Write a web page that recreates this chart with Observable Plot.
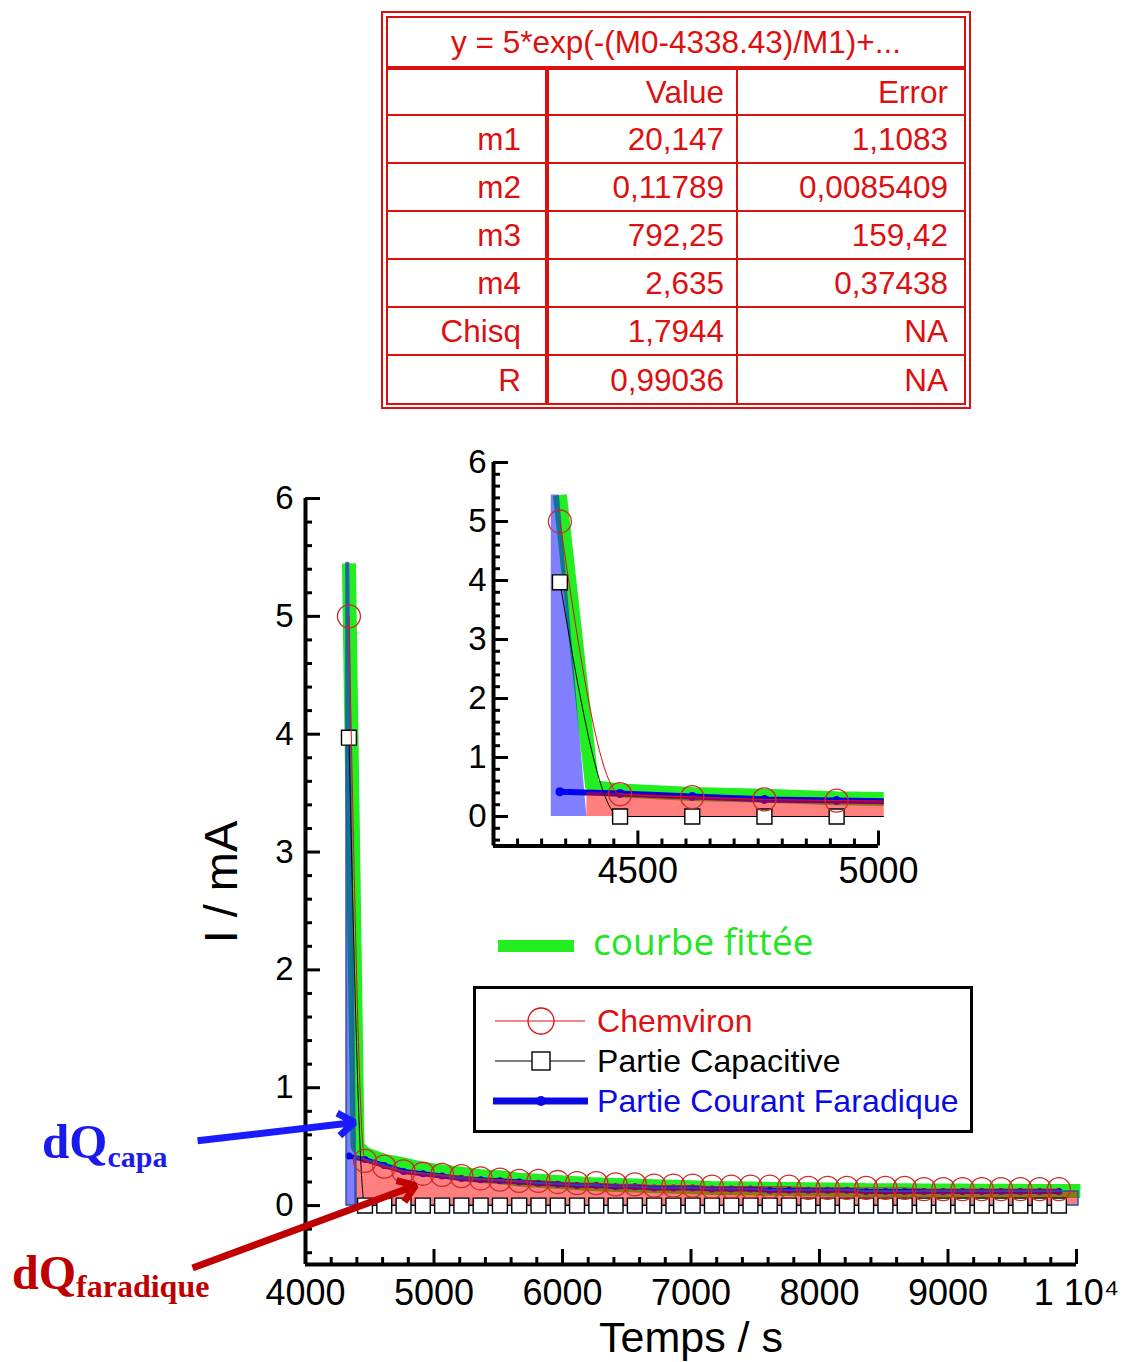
<!DOCTYPE html>
<html><head><meta charset="utf-8">
<script src="https://cdn.jsdelivr.net/npm/d3@7"></script>
<script src="https://cdn.jsdelivr.net/npm/@observablehq/plot@0.6"></script>
<style>
body{margin:0;background:#fff;}
#page{position:relative;width:1123px;height:1362px;overflow:hidden;font-family:"Liberation Sans",Arial,sans-serif;background:#fff;}
.layer{position:absolute;}
</style></head><body><div id="page"></div>
<script>
// ---------------- DATA ----------------
const times = [4338, 4463, 4613, 4763, 4913, 5063, 5213, 5363, 5513, 5663, 5813, 5963, 6113, 6263, 6413, 6563, 6713, 6863, 7013, 7163, 7313, 7463, 7613, 7763, 7913, 8063, 8213, 8363, 8513, 8663, 8813, 8963, 9113, 9263, 9413, 9563, 9713, 9863];
const chemviron = [5.0, 0.38, 0.33, 0.29, 0.27, 0.26, 0.25, 0.23, 0.22, 0.21, 0.21, 0.20, 0.19, 0.19, 0.18, 0.18, 0.17, 0.17, 0.17, 0.16, 0.16, 0.16, 0.16, 0.16, 0.15, 0.15, 0.15, 0.15, 0.15, 0.15, 0.14, 0.14, 0.14, 0.14, 0.14, 0.14, 0.14, 0.14];
const capacitive = [3.97, 0, 0, 0, 0, 0, 0, 0, 0, 0, 0, 0, 0, 0, 0, 0, 0, 0, 0, 0, 0, 0, 0, 0, 0, 0, 0, 0, 0, 0, 0, 0, 0, 0, 0, 0, 0, 0];
const faradique = [0.42, 0.39, 0.34, 0.29, 0.27, 0.25, 0.23, 0.22, 0.21, 0.20, 0.19, 0.18, 0.17, 0.17, 0.16, 0.16, 0.15, 0.15, 0.15, 0.14, 0.14, 0.14, 0.13, 0.13, 0.13, 0.13, 0.13, 0.12, 0.12, 0.12, 0.12, 0.12, 0.12, 0.12, 0.12, 0.12, 0.12, 0.12];
const fitTimes = [4338, 4405, 4463, 4613, 4763, 4913, 5063, 5213, 5363, 5513, 5663, 5813, 5963, 6113, 6263, 6413, 6563, 6713, 6863, 7013, 7163, 7313, 7463, 7613, 7763, 7913, 8063, 8213, 8363, 8513, 8663, 8813, 8963, 9113, 9263, 9413, 9563, 9713, 9863, 10030];
const fitValues = [5.45, 0.50, 0.44, 0.38, 0.35, 0.31, 0.29, 0.27, 0.25, 0.24, 0.22, 0.21, 0.20, 0.19, 0.18, 0.175, 0.17, 0.165, 0.16, 0.155, 0.15, 0.148, 0.145, 0.142, 0.14, 0.138, 0.136, 0.134, 0.132, 0.131, 0.13, 0.129, 0.128, 0.127, 0.126, 0.125, 0.125, 0.124, 0.124, 0.123];
// dQ capa (blue area) outline
const capaAreaTimes = [4320, 4337, 4394];
const capaAreaValues = [5.45, 5.45, 0];
// dQ faradique (red area) edges; interior follows the faradique series
const faraEdgeTimes = [4394, 10015];
const faraEdgeValues = [0.41, 0.12];
// ticks
const mainXTicks = [4000, 5000, 6000, 7000, 8000, 9000, 10000];
const mainYTicks = [0, 1, 2, 3, 4, 5, 6];
const insetXTicks = [4500, 5000];
const insetYTicks = [0, 1, 2, 3, 4, 5, 6];
// annotation arrows (data units of main chart)
const arrowFrom = [[3160, 0.55], [3121, -0.53]];
const arrowTo = [[4381, 0.705], [4856, 0.17]];
const arrowColors = ["#1a1aff", "#c00000"];
// fit table
const tableTitle = "y = 5*exp(-(M0-4338.43)/M1)+...";
const tableRowNames = ["", "m1", "m2", "m3", "m4", "Chisq", "R"];
const tableValues = ["Value", "20,147", "0,11789", "792,25", "2,635", "1,7944", "0,99036"];
const tableErrors = ["Error", "1,1083", "0,0085409", "159,42", "0,37438", "NA", "NA"];
// legend
const legendNames = ["Chemviron", "Partie Capacitive", "Partie Courant Faradique"];
const legendColors = ["#e01010", "#000000", "#0a0ae6"];

// ---------------- TABLES FOR PLOT ----------------
const series = times.map((t, i) => ({t, chem: chemviron[i], cap: capacitive[i], far: faradique[i]}));
const fitData = fitTimes.map((t, i) => ({t, v: fitValues[i]}));
const capaArea = capaAreaTimes.map((t, i) => ({t, v: capaAreaValues[i]}));
const faraArea = [{t: faraEdgeTimes[0], v: faraEdgeValues[0]}]
  .concat(series.slice(1).map(d => ({t: d.t, v: d.far})))
  .concat([{t: faraEdgeTimes[1], v: faraEdgeValues[1]}]);
const arrows = arrowFrom.map((a, i) => ({x1: a[0], y1: a[1], x2: arrowTo[i][0], y2: arrowTo[i][1], c: arrowColors[i]}));

const notInt = d => Math.abs(d - Math.round(d)) > 1e-6;
const page = document.getElementById("page");
const FONT = "Liberation Sans, Arial, sans-serif";

function dataMarks(s) {
  const clip = s.clip;
  return [
    Plot.line(fitData, {x: "t", y: "v", stroke: "#22ee22", strokeWidth: 14, strokeLinecap: "butt", strokeLinejoin: "miter", clip}),
    Plot.line(series, {x: "t", y: "far", stroke: "#0000e6", strokeWidth: s.farW, clip}),
    Plot.dot(series, {x: "t", y: "far", r: s.farR, fill: "#0000e6", clip}),
    Plot.areaY(faraArea, {x: "t", y: "v", fill: "#ff0000", fillOpacity: 0.5, stroke: s.areaStroke, strokeWidth: s.areaSW, strokeOpacity: 0.8, clip}),
    Plot.areaY(capaArea, {x: "t", y: "v", fill: "#0000ff", fillOpacity: 0.5, stroke: s.areaStroke, strokeWidth: s.areaSW, strokeOpacity: 0.8, clip}),
    Plot.line(series, {x: "t", y: "cap", stroke: "black", strokeWidth: 1, curve: "monotone-x", clip}),
    Plot.dot(series, {x: "t", y: "cap", symbol: "square", r: 8.4, fill: "white", stroke: "black", strokeWidth: 1.4, clip}),
    Plot.line(series, {x: "t", y: "chem", stroke: "#e01010", strokeWidth: 1, curve: "monotone-x", clip}),
    Plot.dot(series, {x: "t", y: "chem", r: 11.5, fill: "none", stroke: "#cc2a2a", strokeWidth: 1.3, clip})
  ];
}

function axisMarks(o) {
  return [
    Plot.ruleX([o.x0], {stroke: "black", strokeWidth: 4}),
    Plot.ruleY([o.y0], {x1: o.x0, x2: o.xEnd, stroke: "black", strokeWidth: 4}),
    Plot.tickY(o.yMajor, {y: d => d, stroke: "black", strokeWidth: 3, insetRight: o.frameW - 15}),
    Plot.tickY(o.yMinor, {y: d => d, stroke: "black", strokeWidth: 3, insetRight: o.frameW - 7}),
    Plot.tickX(o.xMajor, {x: d => d, stroke: "black", strokeWidth: 3, insetTop: o.frameH - 15}),
    Plot.tickX(o.xMinor, {x: d => d, stroke: "black", strokeWidth: 3, insetTop: o.frameH - 7}),
    Plot.axisY(o.yMajor, {tickSize: 0, tickPadding: o.yPad, fontSize: o.yFont, tickFormat: d => String(d), fill: "black"}),
    Plot.axisX(o.xMajor, {tickSize: 0, tickPadding: o.xPad, fontSize: o.xFont, tickFormat: d => d === 10000 ? "1 10\u2074" : String(d), fill: "black"})
  ];
}

// ---------------- MAIN PLOT ----------------
{
  const W = 1123, H = 922, m = {l: 305, r: 47, t: 58, b: 98};
  const frameW = W - m.l - m.r, frameH = H - m.t - m.b;
  const xMinor = d3.range(4200, 10000, 200).filter(d => d % 1000 !== 0);
  const yMinor = d3.range(-0.4, 6, 0.2).filter(notInt);
  const plot = Plot.plot({
    width: W, height: H,
    marginLeft: m.l, marginRight: m.r, marginTop: m.t, marginBottom: m.b,
    x: {domain: [4000, 10000], label: null},
    y: {domain: [-0.5, 6], label: null},
    style: {fontFamily: FONT, color: "black", background: "transparent", overflow: "visible"},
    marks: [
      ...dataMarks({clip: false, farW: 5, farR: 3.5, areaStroke: "#3050b0", areaSW: 2}),
      ...axisMarks({x0: 4000, xEnd: 10000, y0: -0.5, frameW, frameH, yMajor: mainYTicks, yMinor, xMajor: mainXTicks, xMinor, yPad: 12, yFont: 33, xPad: 15, xFont: 36}),
      Plot.arrow(arrows, {x1: "x1", y1: "y1", x2: "x2", y2: "y2", stroke: "c", strokeWidth: 7, headLength: 4.2, headAngle: 70, strokeLinecap: "butt", strokeLinejoin: "miter"})
    ]
  });
  const div = document.createElement("div");
  div.className = "layer"; div.style.left = "0px"; div.style.top = "440px";
  div.appendChild(plot); page.appendChild(div);
}

// ---------------- INSET PLOT ----------------
{
  const W = 520, H = 470, pxPerS = 0.48125, pxPerU = 59;
  const xDom = [4200, 5012];
  const frameW = (xDom[1] - xDom[0]) * pxPerS, frameH = 6.5 * pxPerU;
  const m = {l: 73, t: 32};
  const mr = W - m.l - frameW, mb = H - m.t - frameH;
  const xMinor = d3.range(4250, 5000, 50).filter(d => d !== 4500);
  const yMinor = d3.range(-0.4, 6, 0.2).filter(notInt);
  const plot = Plot.plot({
    width: W, height: H,
    marginLeft: m.l, marginRight: mr, marginTop: m.t, marginBottom: mb,
    x: {domain: xDom, label: null},
    y: {domain: [-0.5, 6], label: null},
    style: {fontFamily: FONT, color: "black", background: "transparent", overflow: "visible"},
    marks: [
      ...dataMarks({clip: true, farW: 6, farR: 4.5, areaStroke: "none", areaSW: 0}),
      ...axisMarks({x0: 4200, xEnd: 5000, y0: -0.5, frameW, frameH, yMajor: insetYTicks, yMinor, xMajor: insetXTicks, xMinor, yPad: 7, yFont: 33, xPad: 11, xFont: 36})
    ]
  });
  const div = document.createElement("div");
  div.className = "layer"; div.style.left = "420px"; div.style.top = "430px";
  div.appendChild(plot); page.appendChild(div);
}

// ---------------- OVERLAY: table, legends, titles, labels ----------------
{
  const svg = d3.select(page).append("svg").attr("class", "layer")
    .attr("width", 1123).attr("height", 1362).style("left", "0px").style("top", "0px")
    .style("pointer-events", "none").style("font-family", FONT);
  // table
  const red = "#dd1010";
  const T = svg.append("g");
  T.append("rect").attr("x", 382).attr("y", 12).attr("width", 588).attr("height", 396).attr("fill", "white").attr("stroke", red).attr("stroke-width", 2);
  T.append("rect").attr("x", 387).attr("y", 17).attr("width", 578).attr("height", 387).attr("fill", "none").attr("stroke", red).attr("stroke-width", 2);
  T.append("line").attr("x1", 387).attr("x2", 965).attr("y1", 68).attr("y2", 68).attr("stroke", red).attr("stroke-width", 4);
  const rowY = [68, 115, 163, 211, 259, 307, 355, 404];
  rowY.slice(1, -1).forEach(y => T.append("line").attr("x1", 387).attr("x2", 965).attr("y1", y).attr("y2", y).attr("stroke", red).attr("stroke-width", 2));
  T.append("line").attr("x1", 547).attr("x2", 547).attr("y1", 68).attr("y2", 404).attr("stroke", red).attr("stroke-width", 4);
  T.append("line").attr("x1", 737).attr("x2", 737).attr("y1", 68).attr("y2", 404).attr("stroke", red).attr("stroke-width", 2);
  T.append("text").attr("x", 676).attr("y", 53).attr("text-anchor", "middle").attr("font-size", 31.5).attr("fill", red).text(tableTitle);
  const colRight = [521, 724, 948];
  tableRowNames.forEach((name, i) => {
    const yb = (rowY[i] + rowY[i + 1]) / 2 + 11;
    [name, tableValues[i], tableErrors[i]].forEach((txt, j) => {
      T.append("text").attr("x", colRight[j]).attr("y", yb).attr("text-anchor", "end").attr("font-size", 31.5).attr("fill", red).text(txt);
    });
  });

  // green fit legend
  svg.append("line").attr("x1", 498).attr("x2", 574).attr("y1", 946).attr("y2", 946).attr("stroke", "#22ee22").attr("stroke-width", 12);
  svg.append("text").attr("x", 593).attr("y", 955).attr("font-family", "Open Sans, sans-serif").attr("font-size", 37).attr("fill", "#22e622").text("courbe fittée");

  // legend box
  svg.append("rect").attr("x", 474.5).attr("y", 987.5).attr("width", 497).attr("height", 144).attr("fill", "white").attr("stroke", "black").attr("stroke-width", 3);
  const ly = [1021, 1061, 1101];
  legendNames.forEach((name, i) => {
    const y = ly[i];
    svg.append("line").attr("x1", i === 2 ? 493 : 495).attr("x2", i === 2 ? 588 : 585).attr("y1", y).attr("y2", y)
      .attr("stroke", legendColors[i]).attr("stroke-width", i === 2 ? 7 : 1.2);
    if (i === 0) svg.append("circle").attr("cx", 541).attr("cy", y).attr("r", 13).attr("fill", "none").attr("stroke", legendColors[0]).attr("stroke-width", 1.3);
    if (i === 1) svg.append("rect").attr("x", 532).attr("y", y - 9).attr("width", 18).attr("height", 18).attr("fill", "white").attr("stroke", "black").attr("stroke-width", 1.4);
    if (i === 2) svg.append("circle").attr("cx", 541).attr("cy", y).attr("r", 5).attr("fill", legendColors[2]);
    svg.append("text").attr("x", 597).attr("y", y + 11).attr("font-size", 32).attr("letter-spacing", 0.1).attr("fill", legendColors[i]).text(name);
  });

  // axis titles
  svg.append("text").attr("x", 691).attr("y", 1352).attr("text-anchor", "middle").attr("font-size", 43).attr("fill", "black").text("Temps / s");
  svg.append("text").attr("transform", "translate(237,882) rotate(-90)").attr("text-anchor", "middle").attr("font-size", 47).attr("fill", "black").text("I / mA");

  // dQ labels
  const capa = svg.append("text").attr("x", 42).attr("y", 1158).attr("font-family", "Liberation Serif, Times New Roman, serif").attr("font-weight", "bold").attr("font-size", 49).attr("fill", "#1a1aee");
  capa.append("tspan").text("dQ");
  capa.append("tspan").attr("font-size", 30).attr("dy", 9).text("capa");
  const far = svg.append("text").attr("x", 12).attr("y", 1289).attr("font-family", "Liberation Serif, Times New Roman, serif").attr("font-weight", "bold").attr("font-size", 48).attr("fill", "#c00000");
  far.append("tspan").text("dQ");
  far.append("tspan").attr("font-size", 32).attr("dy", 8).text("faradique");
}
</script>
</body></html>
